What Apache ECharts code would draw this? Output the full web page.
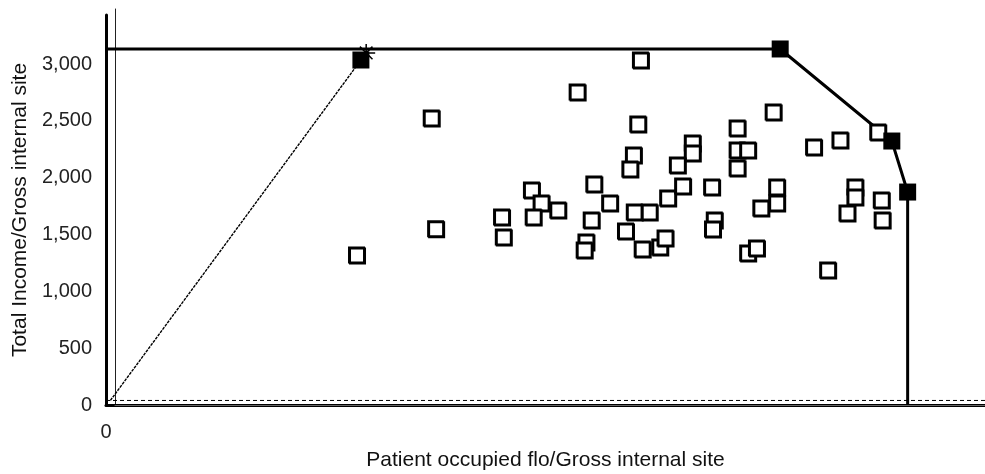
<!DOCTYPE html>
<html>
<head>
<meta charset="utf-8">
<script src="https://cdn.jsdelivr.net/npm/echarts@6/dist/echarts.min.js"></script>
<style>
  html, body { margin: 0; padding: 0; background: #fff; }
  #chart { width: 985px; height: 474px; }
</style>
</head>
<body>
<div id="chart"></div>
<script>
// units (inefficient sites)
const unitX = [0.285, 0.370, 0.375, 0.536, 0.608, 0.605, 0.600, 0.596, 0.450, 0.452,
  0.484, 0.495, 0.486, 0.514, 0.555, 0.573, 0.552, 0.546, 0.544, 0.601,
  0.618, 0.591, 0.610, 0.630, 0.636, 0.639, 0.656, 0.667, 0.667, 0.650,
  0.689, 0.692, 0.690, 0.718, 0.718, 0.730, 0.718, 0.759, 0.763, 0.763,
  0.745, 0.730, 0.740, 0.805, 0.835, 0.878, 0.852, 0.852, 0.843, 0.882,
  0.883, 0.821];
const unitY = [1320, 2525, 1550, 2755, 3035, 2473, 2200, 2077, 1654, 1478,
  1892, 1778, 1654, 1716, 1945, 1778, 1628, 1434, 1364, 1698,
  1698, 1531, 1373, 1390, 1470, 1822, 1927, 2306, 2218, 2112,
  1918, 1628, 1549, 2438, 2244, 2244, 2086, 2578, 1918, 1778,
  1734, 1338, 1382, 2270, 2332, 2402, 1918, 1830, 1690, 1804,
  1628, 1188];

// efficient sites (frontier corners)
const effX = [0.290, 0.767, 0.894, 0.912];
const effY = [3036, 3133, 2323, 1874];

// frontier envelope
const frontierX = [0, 0.767, 0.894, 0.912, 0.912];
const frontierY = [3133, 3133, 2323, 1874, 0];

// ray from origin to first efficient site
const rayX = [0.005, 0.290];
const rayY = [40, 3036];

// dashed base line
const baseX = [0, 1];
const baseY = [40, 40];

// marker behind first efficient site
const starX = [0.296];
const starY = [3098];

const yTicks = [0, 500, 1000, 1500, 2000, 2500, 3000];

const zip = (xs, ys) => xs.map((x, i) => [x, ys[i]]);

const chart = echarts.init(document.getElementById('chart'));
const font = 'Liberation Sans, Arial, sans-serif';

chart.setOption({
  animation: false,
  backgroundColor: '#fff',
  grid: [
    {left: 106, top: 15, right: 0, bottom: 69, outerBoundsMode: 'none'},
    {left: 115, top: 9, right: 0, bottom: 69, outerBoundsMode: 'none'}
  ],
  xAxis: [
    {
      type: 'value', min: 0, max: 1, gridIndex: 0,
      name: 'Patient occupied flo/Gross internal site',
      nameLocation: 'middle', nameGap: 45,
      nameTextStyle: {fontFamily: font, fontSize: 21, color: '#111'},
      axisLine: {show: true, lineStyle: {color: '#000', width: 3}},
      axisTick: {show: false},
      splitLine: {show: false},
      axisLabel: {
        margin: 17, fontFamily: font, fontSize: 20, color: '#222',
        formatter: v => (v === 0 ? '0' : '')
      }
    },
    {
      type: 'value', min: 0, max: 1, gridIndex: 1, position: 'top',
      axisLine: {show: true, lineStyle: {color: '#666', width: 1}},
      axisTick: {show: false}, axisLabel: {show: false}, splitLine: {show: false}
    }
  ],
  yAxis: [
    {
      type: 'value', min: 0, max: 3432, interval: 500, gridIndex: 0,
      name: 'Total Income/Gross internal site',
      nameLocation: 'middle', nameGap: 74,
      nameTextStyle: {fontFamily: font, fontSize: 21, color: '#111'},
      axisLine: {show: true, lineStyle: {color: '#000', width: 3}},
      axisTick: {show: false},
      splitLine: {show: false},
      axisLabel: {
        margin: 14, fontFamily: font, fontSize: 20, color: '#222',
        showMaxLabel: false,
        formatter: v => (yTicks.includes(v) ? v.toLocaleString('en-US') : '')
      }
    },
    {
      type: 'value', min: 0, max: 1, gridIndex: 1,
      axisLine: {show: true, lineStyle: {color: '#222', width: 1}},
      axisTick: {show: false}, axisLabel: {show: false}, splitLine: {show: false}
    }
  ],
  series: [
    {
      type: 'line', data: zip(baseX, baseY), showSymbol: false, z: 2,
      lineStyle: {color: '#000', width: 1, type: [4, 3]}
    },
    {
      type: 'line', data: zip(rayX, rayY), showSymbol: false, z: 2,
      lineStyle: {color: '#000', width: 1.4, type: [3, 1]}
    },
    {
      type: 'line', data: zip(frontierX, frontierY), showSymbol: false, z: 2,
      lineStyle: {color: '#000', width: 3}
    },
    {
      type: 'scatter', data: zip(starX, starY), z: 3,
      symbol: 'path://M0,-10L0,10M-10,0L10,0M-7,-7L7,7M-7,7L7,-7',
      symbolSize: 18,
      itemStyle: {color: 'none', borderColor: '#000', borderWidth: 1.5, opacity: 1}
    },
    {
      type: 'scatter', data: zip(unitX, unitY), z: 4,
      symbol: 'rect', symbolSize: 15,
      itemStyle: {
        color: '#fff', borderColor: '#000', borderWidth: 2, opacity: 1,
        shadowColor: '#000', shadowOffsetX: 1, shadowOffsetY: 1, shadowBlur: 0
      }
    },
    {
      type: 'scatter', data: zip(effX, effY), z: 5,
      symbol: 'rect', symbolSize: 17,
      itemStyle: {color: '#000', opacity: 1}
    }
  ]
});
</script>
</body>
</html>
